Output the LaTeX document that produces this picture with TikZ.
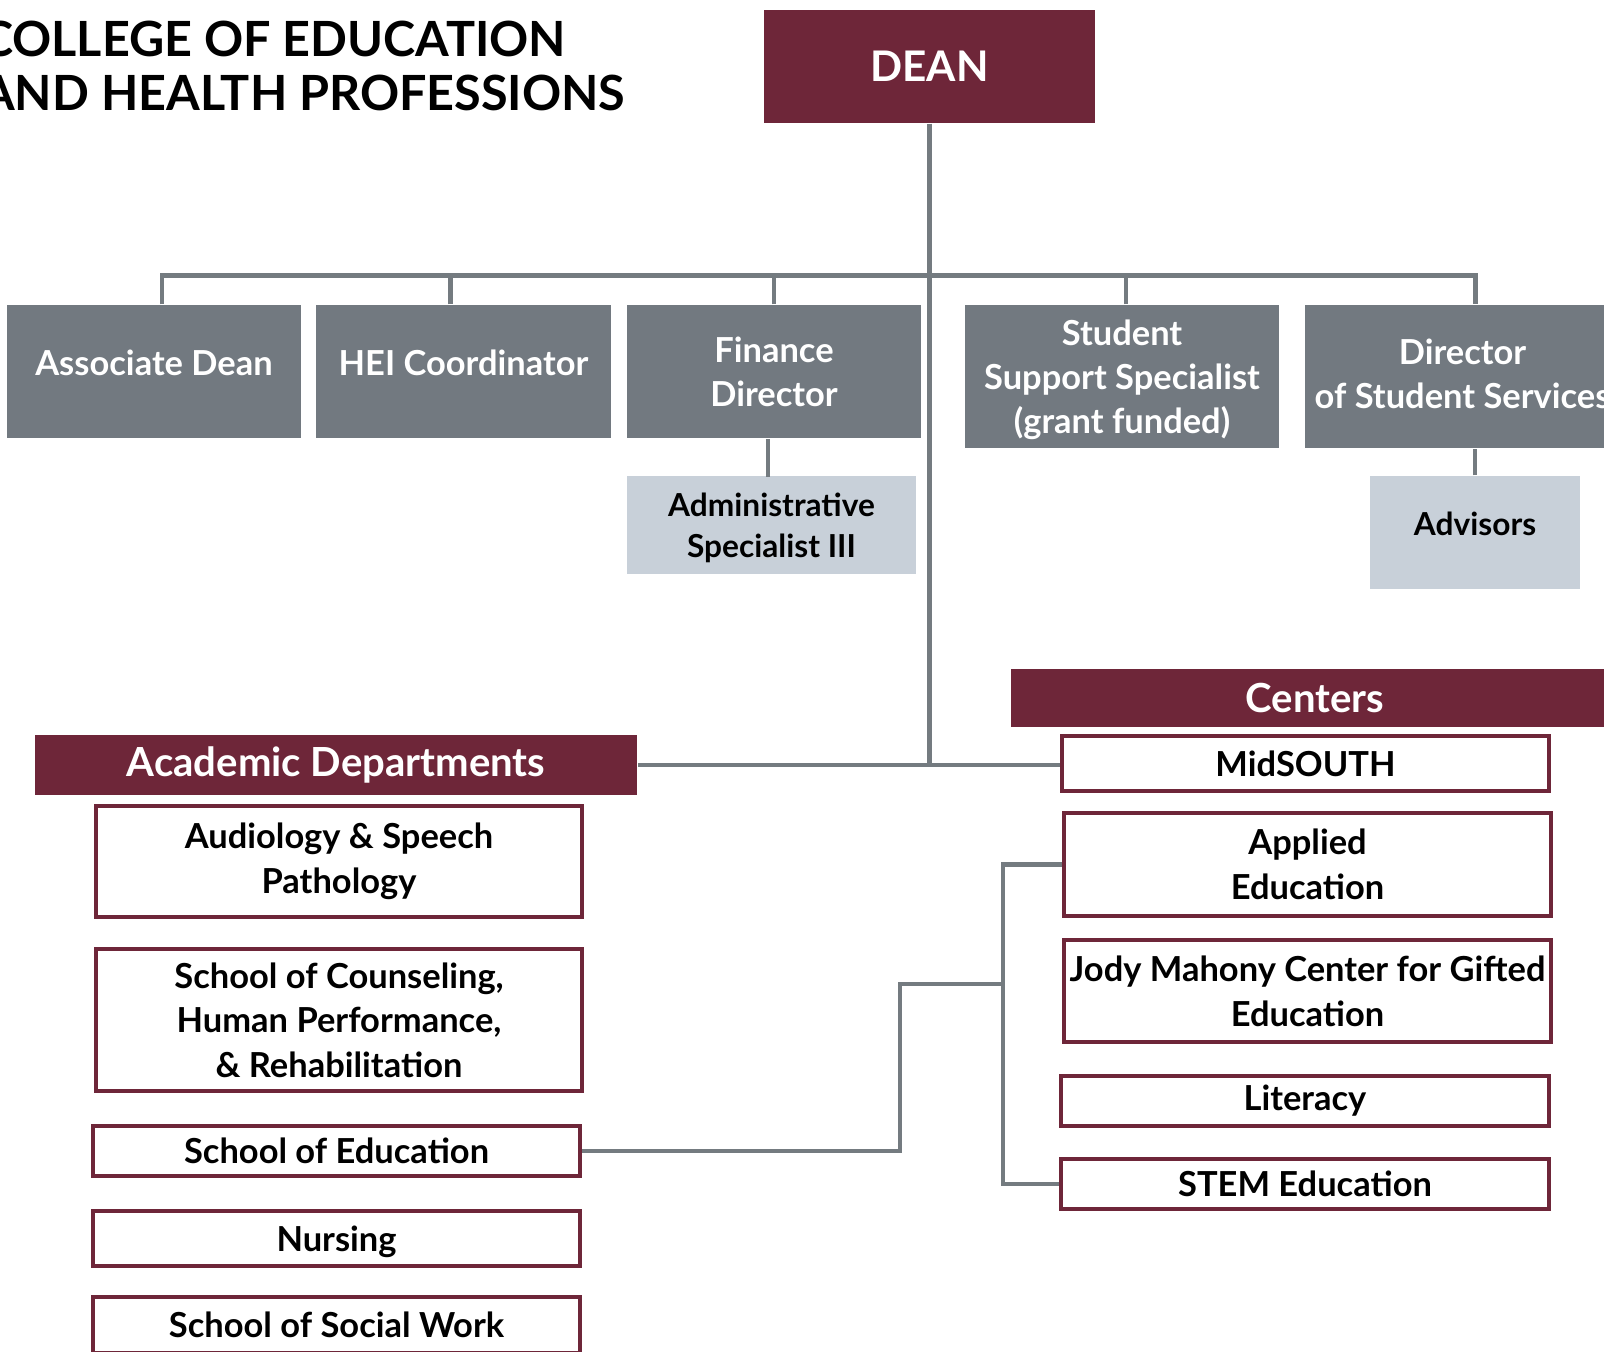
\documentclass[tikz,border=0pt]{standalone}
\usepackage{fontspec}
\setmainfont{Lato}
\usetikzlibrary{calc}

\definecolor{maroon}{RGB}{110,38,57}
\definecolor{slate}{RGB}{114,121,128}
\definecolor{mist}{RGB}{200,208,217}
\definecolor{wire}{RGB}{116,123,128}

\tikzset{
	post/.style={fill=slate, text=white, align=center, inner sep=0pt, font=\bfseries\fontsize{9.8}{12.5}\selectfont},
	aide/.style={fill=mist, text=black, align=center, inner sep=0pt, font=\bfseries\fontsize{9}{11.8}\selectfont},
	banner/.style={fill=maroon, text=white, inner sep=0pt, font=\bfseries\fontsize{11.4}{14}\selectfont},
	unit/.style={draw=maroon, line width=1.1pt, fill=white, align=center, inner sep=0pt, font=\bfseries\fontsize{9.8}{12.7}\selectfont},
	link/.style={draw=wire, line width=1.3pt},
}

\begin{document}
\begin{tikzpicture}[x=0.01cm, y=-0.01cm]
		%%%%% START %%%%%
		\useasboundingbox (0, 0) rectangle (1604, 1351);
		\clip (0, 0) rectangle (1604, 1351);
		
		\node[anchor=east, inner sep=0pt, align=left, font=\bfseries\fontsize{13.8}{15.6}\selectfont] (title) at (626, 66) {COLLEGE OF EDUCATION\\AND HEALTH PROFESSIONS};
		
		\node[banner, minimum width=3.31cm, minimum height=1.13cm, font=\bfseries\fontsize{12}{14}\selectfont] (dean) at (929.5, 66.5) {DEAN};
		
		% staff row
		\node[post, minimum width=2.94cm, minimum height=1.33cm, text depth=0.17cm] (assoc) at (154, 371.5) {Associate Dean};
		\node[post, minimum width=2.95cm, minimum height=1.33cm, text depth=0.17cm] (hei) at (463.5, 371.5) {HEI Coordinator};
		\node[post, minimum width=2.94cm, minimum height=1.33cm] (fin) at (774, 371.5) {Finance\\Director};
		\node[post, minimum width=3.14cm, minimum height=1.43cm, text depth=-0.09cm] (sss) at (1122, 376.5) {Student\\Support Specialist\\(grant funded)};
		\node[post, minimum width=3.15cm, minimum height=1.43cm, text depth=0.06cm] (dss) at (1462.5, 376.5) {Director\\of Student Services};
		
		\node[aide, minimum width=2.89cm, minimum height=0.98cm, text depth=-0.03cm] (admin) at (771.5, 525) {Administrative\\Specialist III};
		\node[aide, minimum width=2.10cm, minimum height=1.13cm, text depth=0.17cm] (adv) at (1475, 532.5) {Advisors};
		
		% headers
		\node[banner, minimum width=6.08cm, minimum height=0.58cm, text depth=0pt] (centers) at (1315, 698) {Centers};
		\node[banner, minimum width=6.02cm, minimum height=0.60cm] (acad) at (336, 765) {Academic Departments};
		
		% centers
		\node[unit, minimum width=4.87cm, minimum height=0.55cm] (mid) at (1305.5, 763.5) {MidSOUTH};
		\node[unit, minimum width=4.87cm, minimum height=1.03cm] (applied) at (1307.5, 864.5) {Applied\\Education};
		\node[unit, minimum width=4.87cm, minimum height=1.02cm] (jody) at (1307.5, 991) {Jody Mahony Center for Gifted\\Education};
		\node[unit, minimum width=4.88cm, minimum height=0.50cm] (lit) at (1305, 1101) {Literacy};
		\node[unit, minimum width=4.88cm, minimum height=0.50cm] (stem) at (1305, 1184) {STEM Education};
		
		% departments
		\node[unit, minimum width=4.86cm, minimum height=1.11cm] (aud) at (339, 861.5) {Audiology \& Speech\\Pathology};
		\node[unit, minimum width=4.86cm, minimum height=1.42cm] (couns) at (339, 1020) {School of Counseling,\\Human Performance,\\\& Rehabilitation};
		\node[unit, minimum width=4.87cm, minimum height=0.50cm] (soe) at (336.5, 1151) {School of Education};
		\node[unit, minimum width=4.87cm, minimum height=0.55cm, text depth=0pt] (nurs) at (336.5, 1238.5) {Nursing};
		\node[unit, minimum width=4.87cm, minimum height=0.56cm] (ssw) at (336.5, 1325) {School of Social Work};
		
		% lines
		\draw[link] (dean.south) -- (dean.south |- acad.east);
		\draw[link] ($(assoc.north)+(8,0)$) |- ($(dss.north)+(13,-29)$) -- ($(dss.north)+(13,0)$);
		\foreach \n/\dx in {hei/-13, fin/0, sss/4}
			\draw[link] ($(\n.north)+(\dx,0)$) -- ++(0,-29);
		\draw[link] ($(fin.south)+(-6,0)$) -- ($(fin.south)+(-6,38)$);
		\draw[link] (adv.north) -- (adv.north |- dss.south);
		\draw[link] (acad.east) -- (acad.east -| mid.west);
		
		\coordinate (knee) at (900, 984);
		\coordinate (spine) at (1003, 984);
		\draw[link] (soe.east) -| (knee) -- (spine);
		\draw[link] (applied.west) -| (spine) |- (stem.west);
		%%%%% END %%%%%
	\end{tikzpicture}
\end{document}
